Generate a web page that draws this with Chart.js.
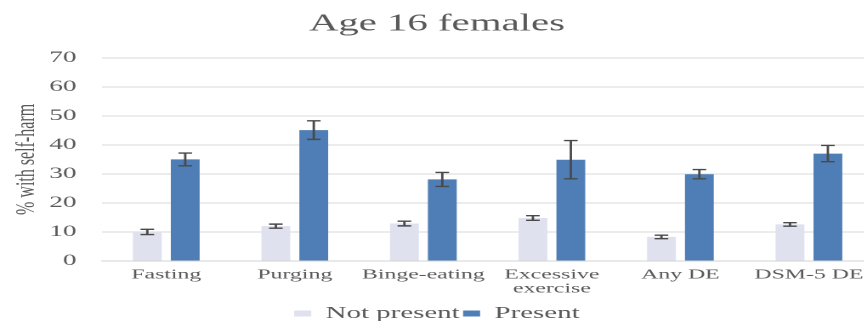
<!DOCTYPE html>
<html>
<head>
<meta charset="utf-8">
<script src="https://cdn.jsdelivr.net/npm/chart.js@4.4.1/dist/chart.umd.min.js"></script>
<style>
  html, body { margin: 0; padding: 0; background: #fff; overflow: hidden; width: 864px; height: 321px; }
  /* the source picture is stretched sideways, so the chart is drawn narrow and widened */
  #wrap { width: 515px; height: 321px; transform: scaleX(1.7); transform-origin: 0 0; }
</style>
</head>
<body>
<div id="wrap"><canvas id="chart" width="515" height="321"></canvas></div>
<script>
const categories = ['Fasting', 'Purging', 'Binge-eating', ['Excessive', 'exercise'], 'Any DE', 'DSM-5 DE'];
const notPresent = [10.0, 12.0, 12.9, 14.8, 8.3, 12.6];
const notPresentErr = [0.9, 0.7, 0.8, 0.8, 0.6, 0.6];
const present = [35.0, 45.1, 28.1, 34.9, 29.9, 37.0];
const presentErr = [2.2, 3.2, 2.4, 6.6, 1.6, 2.8];
const yMin = 0, yMax = 70, yStep = 10;

const serif = "'Liberation Serif', 'Times New Roman', serif";
const grey = '#595959';

// error bars drawn through the y scale
const errorBars = {
    id: 'errorBars',
    afterDatasetsDraw(chart) {
        const ctx = chart.ctx;
        const y = chart.scales.y;
        ctx.save();
        ctx.strokeStyle = '#4a4a4a';
        ctx.lineWidth = 1.4;
        chart.data.datasets.forEach((ds, i) => {
            const meta = chart.getDatasetMeta(i);
            meta.data.forEach((bar, j) => {
                const v = ds.data[j], e = ds.errors[j];
                const top = y.getPixelForValue(v + e);
                const bot = y.getPixelForValue(v - e);
                const cap = 4;
                ctx.beginPath();
                ctx.moveTo(bar.x, top); ctx.lineTo(bar.x, bot);
                ctx.moveTo(bar.x - cap, top); ctx.lineTo(bar.x + cap, top);
                ctx.moveTo(bar.x - cap, bot); ctx.lineTo(bar.x + cap, bot);
                ctx.stroke();
            });
        });
        ctx.restore();
    }
};

new Chart(document.getElementById('chart'), {
    type: 'bar',
    data: {
        labels: categories,
        datasets: [{
            label: 'Not present',
            data: notPresent,
            errors: notPresentErr,
            backgroundColor: '#dfe1ee',
            borderWidth: 0
        }, {
            label: 'Present',
            data: present,
            errors: presentErr,
            backgroundColor: '#4f7eb6',
            borderWidth: 0
        }]
    },
    options: {
        responsive: false,
        animation: false,
        devicePixelRatio: 2,
        categoryPercentage: 0.59,
        barPercentage: 0.76,
        layout: { padding: { left: 0, right: 1, top: 0, bottom: -11 } },
        plugins: {
            title: {
                display: true,
                text: 'Age 16 females',
                color: grey,
                font: { family: serif, size: 24, weight: 'normal' },
                padding: { top: 10, bottom: 19 }
            },
            legend: {
                position: 'bottom',
                labels: {
                    color: grey,
                    font: { family: serif, size: 17 },
                    boxWidth: 10,
                    boxHeight: 6,
                    padding: 2
                }
            },
            tooltip: { enabled: false }
        },
        scales: {
            x: {
                grid: { display: false, drawTicks: false },
                border: { color: '#d3d3d3' },
                ticks: {
                    color: grey,
                    font: { family: serif, size: 14, lineHeight: 1.0 },
                    padding: 7,
                    maxRotation: 0,
                    autoSkip: false
                }
            },
            y: {
                min: yMin,
                max: yMax,
                afterFit(scale) { scale.width = 60; },
                grid: { color: '#d9d9d9', drawTicks: false },
                border: { display: false },
                ticks: {
                    stepSize: yStep,
                    color: grey,
                    font: { family: serif, size: 16 },
                    padding: 15
                },
                title: {
                    display: true,
                    text: '% with self-harm',
                    color: grey,
                    font: { family: serif, size: 16 },
                    padding: { top: 6, bottom: 0 }
                }
            }
        }
    },
    plugins: [errorBars]
});
</script>
</body>
</html>
